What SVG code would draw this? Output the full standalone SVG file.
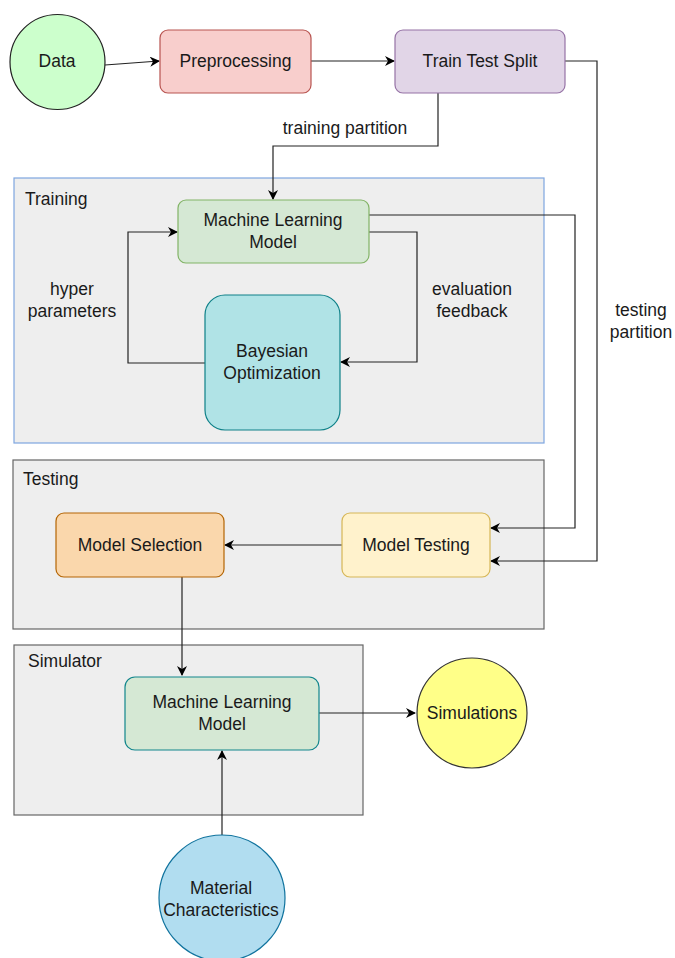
<svg xmlns="http://www.w3.org/2000/svg" width="675" height="958" viewBox="0 0 675 958">
<defs>
<marker id="ah" viewBox="0 0 10 10" refX="9" refY="5" markerWidth="10" markerHeight="10" markerUnits="userSpaceOnUse" orient="auto">
<path d="M0,0 L10,5 L0,10 L3,5 Z" fill="#000"/>
</marker>
<style>
text{font-family:"Liberation Sans",Arial,sans-serif;font-size:17.5px;fill:#1a1a1a}
.c{text-anchor:middle}
.e{fill:none;stroke:#222;stroke-width:1.2;marker-end:url(#ah)}
.grp{fill:#eeeeee;stroke:#666;stroke-width:1.2}
</style>
</defs>
<rect width="675" height="958" fill="#fff"/>
<g id="training-group"><rect x="14" y="178" width="530" height="265" fill="#eeeeee" stroke="#7ea6e0" stroke-width="1.2"/><text x="25" y="205">Training</text></g>
<g id="testing-group"><rect class="grp" x="13" y="460" width="531" height="169"/><text x="23" y="485">Testing</text></g>
<g id="simulator-group"><rect class="grp" x="14" y="645" width="349" height="170"/><text x="28" y="667">Simulator</text></g>

<g id="connectors">
<path class="e" d="M105,65 L159,61"/>
<path class="e" d="M311,61 L394,61"/>
<path class="e" d="M438,93 L438,146 L273,146 L273,199"/>
<path class="e" d="M565,61 L597,61 L597,561 L491,561"/>
<path class="e" d="M369,215 L575,215 L575,528 L491,528"/>
<path class="e" d="M205,363 L128,363 L128,232 L177,232"/>
<path class="e" d="M369,232 L417,232 L417,362 L341,362"/>
<path class="e" d="M342,545 L225,545"/>
<path class="e" d="M182,577 L182,675"/>
<path class="e" d="M319,713 L415,713"/>
<path class="e" d="M222,835 L222,751"/>
<text class="c" x="345" y="134">training partition</text>
<text class="c" x="641" y="316">testing</text>
<text class="c" x="641" y="338">partition</text>
<text class="c" x="72" y="295">hyper</text>
<text class="c" x="72" y="317">parameters</text>
<text class="c" x="472" y="295">evaluation</text>
<text class="c" x="472" y="317">feedback</text>
</g>

<g id="data"><circle cx="57.5" cy="62" r="47.5" fill="#ccffcc" stroke="#222" stroke-width="1.2"/><text class="c" x="57" y="67">Data</text></g>
<g id="preprocessing"><rect x="160" y="30" width="151" height="63" rx="8" fill="#f8cecc" stroke="#b85450" stroke-width="1.2"/><text class="c" x="235.5" y="67">Preprocessing</text></g>
<g id="train-test-split"><rect x="395" y="30" width="170" height="63" rx="8" fill="#e1d5e7" stroke="#9673a6" stroke-width="1.2"/><text class="c" x="480" y="67">Train Test Split</text></g>
<g id="ml-model"><rect x="178" y="200" width="191" height="63" rx="8" fill="#d5e8d4" stroke="#82b366" stroke-width="1.2"/><text class="c" x="273" y="226">Machine Learning</text><text class="c" x="273" y="248">Model</text></g>
<g id="bayesian"><rect x="205" y="295" width="135" height="135" rx="20" fill="#b0e3e6" stroke="#0e8088" stroke-width="1.2"/><text class="c" x="272" y="357">Bayesian</text><text class="c" x="272" y="379">Optimization</text></g>
<g id="model-selection"><rect x="56" y="513" width="168" height="64" rx="8" fill="#fad7ac" stroke="#b46504" stroke-width="1.2"/><text class="c" x="140" y="551">Model Selection</text></g>
<g id="model-testing"><rect x="342" y="513" width="148" height="64" rx="8" fill="#fff2cc" stroke="#d6b656" stroke-width="1.2"/><text class="c" x="416" y="551">Model Testing</text></g>
<g id="ml-model-sim"><rect x="125" y="677" width="194" height="73" rx="10" fill="#d5e8d4" stroke="#12868c" stroke-width="1.2"/><text class="c" x="222" y="708">Machine Learning</text><text class="c" x="222" y="730">Model</text></g>
<g id="simulations"><circle cx="472" cy="713" r="55" fill="#ffff88" stroke="#333" stroke-width="1.2"/><text class="c" x="472" y="719">Simulations</text></g>
<g id="material"><ellipse cx="222" cy="898" rx="63" ry="63" fill="#b1ddf0" stroke="#10739e" stroke-width="1.2"/><text class="c" x="221" y="894">Material</text><text class="c" x="221" y="916">Characteristics</text></g>
</svg>
